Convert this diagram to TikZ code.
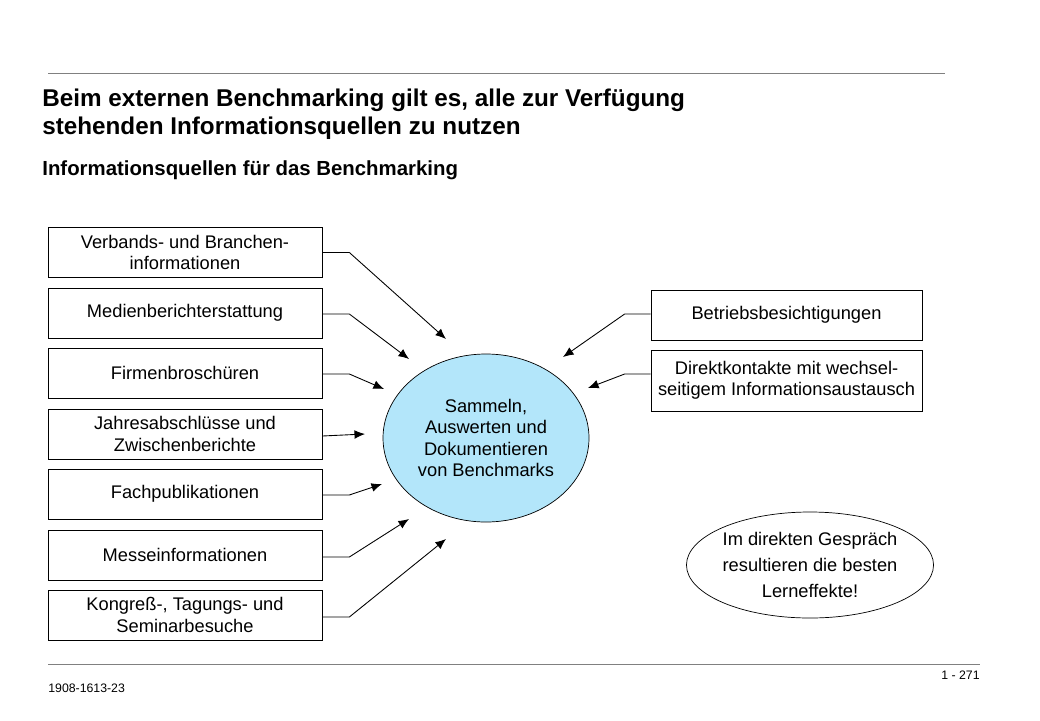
\documentclass[tikz,border=0pt]{standalone}
\usepackage{fontspec}
\setmainfont{Liberation Sans}
\usetikzlibrary{shapes.geometric,arrows.meta}
\begin{document}
\begin{tikzpicture}[x=0.02cm,y=-0.02cm,
  src/.style={draw, minimum width=274*0.02cm, inner sep=1pt, align=center, font=\fontsize{10.4}{12.2}\selectfont},
  arr/.style={-{Latex[length=6pt,width=5pt]}, semithin}]
\tikzset{semithin/.style={line width=0.5pt}}
\useasboundingbox (0,0) rectangle (1040,720);
%rules
\draw[gray] (48,73) -- (945,73);
\draw[gray] (48,664) -- (980,664);
%titles
\node[anchor=west, inner sep=0pt, font=\fontsize{13.8}{15.8}\selectfont\bfseries, align=left] (title) at (42,114) {Beim externen Benchmarking gilt es, alle zur Verfügung\\stehenden Informationsquellen zu nutzen};
\node[anchor=west, inner sep=0pt, font=\fontsize{11.6}{13}\selectfont\bfseries] (sub) at (42,170) {Informationsquellen für das Benchmarking};
%centre
\node[draw, ellipse, inner sep=0pt, fill=cyan!30, minimum width=206*0.02cm, minimum height=168*0.02cm, align=center, font=\fontsize{10.4}{12}\selectfont] (centre) at (486,438) {Sammeln,\\Auswerten und\\Dokumentieren\\von Benchmarks};
%left sources
\node[src, minimum height=50*0.02cm] (verband) at (185,252.5) {Verbands- und Branchen-\\informationen};
\node[src, minimum height=50*0.02cm] (medien) at (185,313) {Medienberichterstattung};
\node[src, minimum height=50*0.02cm] (firmen) at (185,373) {Firmenbroschüren};
\node[src, minimum height=50*0.02cm] (jahres) at (185,434) {Jahresabschlüsse und\\Zwischenberichte};
\node[src, minimum height=50*0.02cm] (fach) at (185,494) {Fachpublikationen};
\node[src, minimum height=50*0.02cm] (messe) at (185,555) {Messeinformationen};
\node[src, minimum height=50*0.02cm] (kongress) at (185,615) {Kongreß-, Tagungs- und\\Seminarbesuche};
%right sources
\node[src, minimum width=271*0.02cm, minimum height=50*0.02cm] (betrieb) at (786.5,315) {Betriebsbesichtigungen};
\node[src, minimum width=271*0.02cm, minimum height=61*0.02cm] (direkt) at (786.5,380.5) {Direktkontakte mit wechsel-\\seitigem Informationsaustausch};
\node[draw, ellipse, inner sep=0pt, minimum width=226*0.02cm, minimum height=106*0.02cm, align=center, font=\fontsize{10.4}{14.6}\selectfont] (lern) at (810,565) {Im direkten Gespräch\\resultieren die besten\\Lerneffekte!};
%arrow ends
\coordinate (e1) at (446,339); \coordinate (e2) at (409,359); \coordinate (e3) at (384,389);
\coordinate (e4) at (365,434); \coordinate (e5) at (382,484); \coordinate (e6) at (409,519);
\coordinate (e7) at (446,539); \coordinate (e8) at (563,357); \coordinate (e9) at (588,388);
%connectors
\draw[arr] (verband.east) -- ++(27,0) -- (e1);
\draw[arr] (medien.east) ++(0,1) -- ++(27,0) -- (e2);
\draw[arr] (firmen.east) ++(0,1) -- ++(27,0) -- (e3);
\draw[arr] (jahres.east) ++(0,2) -- (e4);
\draw[arr] (fach.east) ++(0,1) -- ++(27,0) -- (e5);
\draw[arr] (messe.east) ++(0,2) -- ++(27,0) -- (e6);
\draw[arr] (kongress.east) ++(0,2) -- ++(27,0) -- (e7);
\draw[arr] (betrieb.west) ++(0,-1) -- ++(-26,0) -- (e8);
\draw[arr] (direkt.west) ++(0,-6.5) -- ++(-26,0) -- (e9);
%footer
\node[anchor=west, inner sep=0pt, font=\fontsize{7}{8}\selectfont] (code) at (48,688) {1908-1613-23};
\node[anchor=east, inner sep=0pt, font=\fontsize{7}{8}\selectfont] (page) at (980,675) {1 - 271};
\end{tikzpicture}
\end{document}
